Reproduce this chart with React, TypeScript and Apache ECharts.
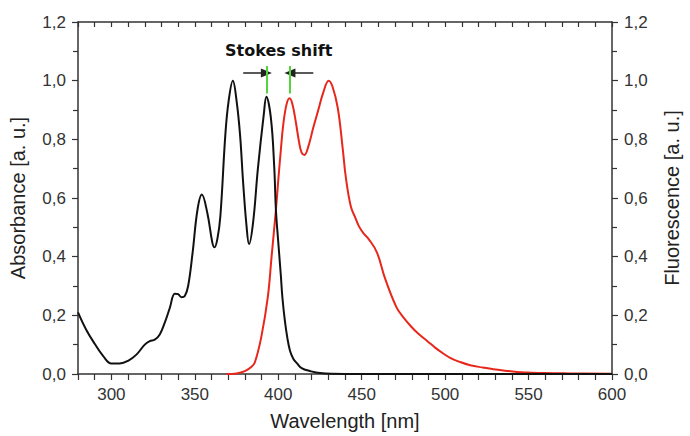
import React, { useEffect, useRef } from "react";
import * as echarts from "echarts";

const absWavelength = [280, 285, 290, 295, 300, 305, 310, 315, 320, 323, 326, 329, 332, 335, 338, 340, 342, 344, 346, 348.7, 351.6, 354.2, 357.5, 360.5, 361.8, 363.5, 365.3, 368.3, 370.2, 372.8, 375.1, 377.1, 379, 381, 382.5, 384.9, 387.8, 391.3, 392.9, 395.6, 397.6, 398.6, 400, 401.5, 402.5, 404, 405.4, 407, 409, 411.3, 414, 419, 425, 440, 600];
const absValue = [0.21, 0.15, 0.103, 0.062, 0.036, 0.036, 0.045, 0.066, 0.1, 0.112, 0.117, 0.135, 0.175, 0.225, 0.274, 0.272, 0.262, 0.266, 0.3, 0.415, 0.56, 0.612, 0.549, 0.448, 0.432, 0.46, 0.537, 0.816, 0.928, 1.0, 0.928, 0.816, 0.649, 0.504, 0.443, 0.515, 0.7, 0.883, 0.945, 0.872, 0.705, 0.56, 0.45, 0.34, 0.26, 0.18, 0.125, 0.08, 0.052, 0.036, 0.02, 0.01, 0.003, 0.0, 0.0];

const fluWavelength = [369, 375, 380, 384, 386, 389.8, 393.7, 396, 398.6, 400, 401.5, 403, 405, 406.8, 408.5, 410.5, 412.5, 414, 415.7, 418, 421, 424, 427, 430.2, 432.5, 435.7, 438.6, 440.5, 443.5, 446.4, 448.3, 451, 454.2, 459.1, 464, 470.8, 475, 479.6, 484, 489.4, 494, 499.1, 503, 508.9, 515, 522.6, 529, 536.2, 543, 549.9, 560, 575, 600];
const fluValue = [0.0, 0.002, 0.01, 0.025, 0.04, 0.125, 0.26, 0.4, 0.56, 0.66, 0.76, 0.85, 0.92, 0.94, 0.92, 0.86, 0.79, 0.755, 0.747, 0.775, 0.84, 0.9, 0.96, 1.0, 0.98, 0.906, 0.77, 0.67, 0.571, 0.53, 0.504, 0.48, 0.46, 0.415, 0.326, 0.228, 0.193, 0.162, 0.137, 0.112, 0.09, 0.069, 0.055, 0.041, 0.03, 0.022, 0.016, 0.011, 0.007, 0.005, 0.003, 0.002, 0.001];

const yTicks = [0, 0.2, 0.4, 0.6, 0.8, 1.0, 1.2];

// Stokes shift annotation positions (nm, value)
const absPeakNm = 392.9;
const fluPeakNm = 407;
const arrowY = 1.026;
const arrowLeftStart = 379;
const arrowRightStart = 421;
const greenLow = 0.956;
const greenHigh = 1.05;

const FONT = "'Liberation Sans', Arial, Helvetica, sans-serif";

export default function App() {
  const ref = useRef<HTMLDivElement>(null);
  useEffect(() => {
    document.body.style.margin = "0";
    const chart = echarts.init(ref.current!, null, { renderer: "svg" });
    const fmt = (v: number) => v.toFixed(1).replace(".", ",");
    const absData = absWavelength.map((x, i) => [x, absValue[i]]);
    const fluData = fluWavelength.map((x, i) => [x, fluValue[i]]);
    const axisColor = "#333";
    const yCommon = {
      type: "value" as const,
      min: yTicks[0],
      max: yTicks[yTicks.length - 1],
      interval: 0.2,
      nameLocation: "middle" as const,
      nameGap: 50,
      nameTextStyle: { fontFamily: FONT, fontSize: 20, color: "#222" },
      axisLine: { show: true, lineStyle: { color: axisColor, width: 1.5 } },
      axisTick: { show: true, inside: false, length: 6, lineStyle: { color: axisColor, width: 1.2 } },
      minorTick: { show: true, splitNumber: 2, length: 5, lineStyle: { color: axisColor, width: 1.2 } },
      axisLabel: { formatter: fmt, fontFamily: FONT, fontSize: 17, color: "#333", margin: 12 },
      splitLine: { show: false },
      minorSplitLine: { show: false },
    };
    chart.setOption({
      animation: false,
      backgroundColor: "#fff",
      grid: { left: 77, right: 68, top: 22, bottom: 55, containLabel: false },
      xAxis: [
        {
          type: "value",
          min: 280,
          max: 600,
          interval: 10,
          name: "Wavelength [nm]",
          nameLocation: "middle",
          nameGap: 37,
          nameTextStyle: { fontFamily: FONT, fontSize: 20, color: "#222" },
          axisLine: { show: true, onZero: false, lineStyle: { color: axisColor, width: 1.5 } },
          axisTick: { show: true, inside: false, length: 6, lineStyle: { color: axisColor, width: 1.2 } },
          axisLabel: {
            interval: 0,
            formatter: (v: number) => (Math.round(v) % 50 === 0 ? String(Math.round(v)) : ""),
            fontFamily: FONT,
            fontSize: 17,
            color: "#333",
            margin: 12,
          },
          splitLine: { show: false },
        },
        {
          type: "value",
          position: "top",
          min: 280,
          max: 600,
          interval: 10,
          axisLine: { show: true, onZero: false, lineStyle: { color: axisColor, width: 1.5 } },
          axisTick: { show: true, inside: true, length: 5, lineStyle: { color: axisColor, width: 1.2 } },
          axisLabel: { show: false },
          splitLine: { show: false },
        },
      ],
      yAxis: [
        { ...yCommon, position: "left", name: "Absorbance [a. u.]" },
        { ...yCommon, position: "right", name: "Fluorescence [a. u.]" },
      ],
      series: [
        {
          type: "line",
          name: "Absorbance",
          xAxisIndex: 0,
          yAxisIndex: 0,
          data: absData,
          smooth: 0.4,
          showSymbol: false,
          symbol: "none",
          lineStyle: { color: "#111", width: 2 },
          z: 3,
          markLine: {
            silent: true,
            animation: false,
            label: { show: false },
            lineStyle: { color: "#222", width: 1.5, type: "solid" },
            symbol: ["none", "triangle"],
            symbolSize: [9, 11],
            data: [
              [{ coord: [arrowLeftStart, arrowY] }, { coord: [absPeakNm, arrowY] }],
              [{ coord: [arrowRightStart, arrowY] }, { coord: [fluPeakNm, arrowY] }],
            ],
          },
        },
        {
          type: "line",
          name: "Fluorescence",
          xAxisIndex: 0,
          yAxisIndex: 1,
          data: fluData,
          smooth: 0.4,
          showSymbol: false,
          symbol: "none",
          lineStyle: { color: "#e8271c", width: 2 },
          z: 2,
          markLine: {
            silent: true,
            animation: false,
            label: { show: false },
            lineStyle: { color: "#55d43c", width: 2, type: "solid" },
            symbol: ["none", "none"],
            z: 5,
            data: [
              [{ coord: [absPeakNm, greenLow] }, { coord: [absPeakNm, greenHigh] }],
              [{ coord: [fluPeakNm, greenLow] }, { coord: [fluPeakNm, greenHigh] }],
            ],
          },
        },
      ],
      graphic: [
        {
          type: "text",
          left: 225,
          top: 42,
          style: {
            text: "Stokes shift",
            fontFamily: "'DejaVu Sans', " + FONT,
            fontWeight: "bold",
            fontSize: 16,
            fill: "#111",
          },
        },
      ],
    });
    return () => chart.dispose();
  }, []);
  return <div ref={ref} style={{ width: 690, height: 436, position: "absolute", left: 0, top: 0 }} />;
}
